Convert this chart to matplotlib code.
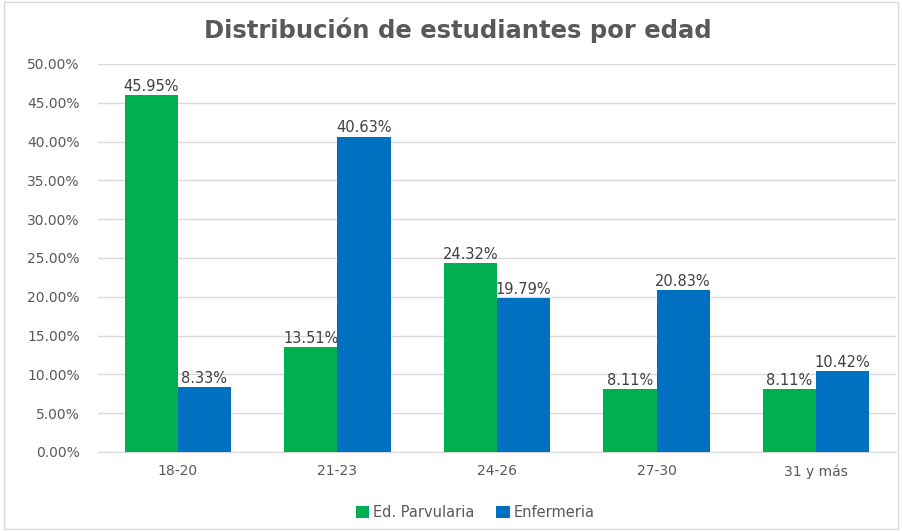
import matplotlib
matplotlib.use("Agg")
import matplotlib.pyplot as plt
import numpy as np
from matplotlib.patches import Rectangle

categories = ["18-20", "21-23", "24-26", "27-30", "31 y más"]
parvularia = [45.95, 13.51, 24.32, 8.11, 8.11]
enfermeria = [8.33, 40.63, 19.79, 20.83, 10.42]
series_names = ["Ed. Parvularia", "Enfermeria"]
yticks = [0, 5, 10, 15, 20, 25, 30, 35, 40, 45, 50]

green = "#00B050"
blue = "#0070C0"
txt = "#595959"

fig = plt.figure(figsize=(9.02, 5.31), dpi=100)
fig.patches.append(Rectangle((0.004, 0.004), 0.992, 0.992, transform=fig.transFigure,
                             fill=False, edgecolor="#D9D9D9", linewidth=1))
ax = fig.add_axes([0.1086, 0.1488, 0.8847, 0.7307])

x = np.arange(len(categories))
w = 0.333
b1 = ax.bar(x - w/2, parvularia, w, color=green, label=series_names[0], zorder=3)
b2 = ax.bar(x + w/2, enfermeria, w, color=blue, label=series_names[1], zorder=3)

for bars, vals in ((b1, parvularia), (b2, enfermeria)):
    for r, v in zip(bars, vals):
        ax.annotate(f"{v:.2f}%", (r.get_x() + r.get_width()/2, v), xytext=(0, 1),
                    textcoords="offset points", ha="center", va="bottom",
                    fontsize=10.5, color="#404040", family="DejaVu Sans")

ax.set_xlim(-0.5, len(categories) - 0.5)
ax.set_ylim(0, 50)
ax.set_yticks(yticks)
ax.set_yticklabels([f"{t:.2f}%" for t in yticks])
ax.set_xticks(x)
ax.set_xticklabels(categories)
ax.tick_params(axis="both", length=0, colors=txt, labelsize=10)
ax.tick_params(axis="x", pad=9)
ax.tick_params(axis="y", pad=13)
ax.grid(axis="y", color="#D9D9D9", linewidth=1, zorder=0)
for s in ["top", "right", "left"]:
    ax.spines[s].set_visible(False)
ax.spines["bottom"].set_color("#D9D9D9")

fig.text(0.508, 0.943, "Distribución de estudiantes por edad", ha="center", va="center",
         fontsize=17.5, fontweight="bold", color=txt)

fig.legend(handles=[b1, b2], loc="center", bbox_to_anchor=(0.527, 0.035), ncol=2,
           frameon=False, fontsize=10.5, labelcolor=txt, handlelength=0.9, handleheight=0.9,
           handletextpad=0.3, columnspacing=1.5)

fig.savefig("out.png", dpi=100)
